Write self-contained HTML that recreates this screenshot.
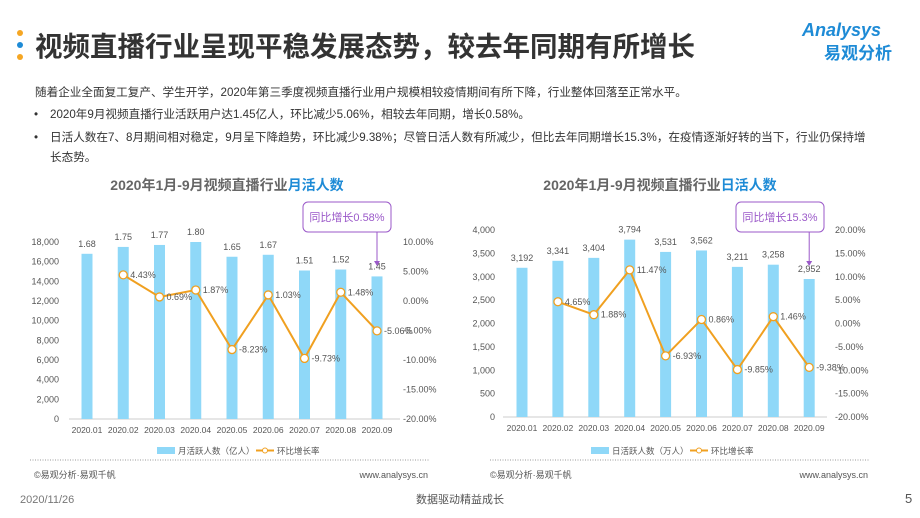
<!DOCTYPE html>
<html><head><meta charset="utf-8">
<style>
body{margin:0;width:920px;height:518px;background:#fff;overflow:hidden;font-family:"Liberation Sans","Noto Sans CJK SC",sans-serif;}
svg{position:absolute;left:0;top:0}
</style></head>
<body>
<svg id="s" width="920" height="518" xmlns="http://www.w3.org/2000/svg" font-family="Liberation Sans, Noto Sans CJK SC, sans-serif">
<g>
<circle cx="20" cy="33" r="3" fill="#f5a623"/><circle cx="20" cy="45" r="3" fill="#1e8bd6"/><circle cx="20" cy="57" r="3" fill="#f5a623"/>
<text x="35" y="56" font-size="27.5" font-weight="bold" fill="#333">视频直播行业呈现平稳发展态势，较去年同期有所增长</text>
<text x="802" y="36" font-size="18" font-style="italic" font-weight="bold" fill="#1e8bd6">Analysys</text>
<text x="824" y="59" font-size="17" font-weight="bold" fill="#1e8bd6">易观分析</text>
</g>
<g font-size="11.6" fill="#333">
<text x="35" y="96">随着企业全面复工复产、学生开学，2020年第三季度视频直播行业用户规模相较疫情期间有所下降，行业整体回落至正常水平。</text>
<text x="34" y="118">•</text><text x="50" y="118">2020年9月视频直播行业活跃用户达1.45亿人，环比减少5.06%，相较去年同期，增长0.58%。</text>
<text x="34" y="141">•</text><text x="50" y="141">日活人数在7、8月期间相对稳定，9月呈下降趋势，环比减少9.38%；尽管日活人数有所减少，但比去年同期增长15.3%，在疫情逐渐好转的当下，行业仍保持增</text>
<text x="50" y="161">长态势。</text>
</g>
<g id="c1"></g>
<g id="c2"></g>
<g font-size="9" fill="#555">
<text x="34" y="478">©易观分析·易观千帆</text><text x="428" y="478" text-anchor="end">www.analysys.cn</text>
<text x="490" y="478">©易观分析·易观千帆</text><text x="868" y="478" text-anchor="end">www.analysys.cn</text>
<text x="20" y="503" font-size="11" fill="#777">2020/11/26</text>
<text x="460" y="503" font-size="11" fill="#555" text-anchor="middle">数据驱动精益成长</text>
<text x="905" y="503" font-size="13" fill="#555">5</text>
</g>
</svg>
<script>
const cats=["2020.01","2020.02","2020.03","2020.04","2020.05","2020.06","2020.07","2020.08","2020.09"];
const mauVals=[1.68,1.75,1.77,1.80,1.65,1.67,1.51,1.52,1.45];
const mauRate=[null,4.43,0.69,1.87,-8.23,1.03,-9.73,1.48,-5.06];
const dauVals=[3192,3341,3404,3794,3531,3562,3211,3258,2952];
const dauRate=[null,4.65,1.88,11.47,-6.93,0.86,-9.85,1.46,-9.38];
const mauLeftTicks=[0,2000,4000,6000,8000,10000,12000,14000,16000,18000];
const mauRightTicks=[-20,-15,-10,-5,0,5,10];
const dauLeftTicks=[0,500,1000,1500,2000,2500,3000,3500,4000];
const dauRightTicks=[-20,-15,-10,-5,0,5,10,15,20];
const NS="http://www.w3.org/2000/svg";
function mk(p,t,a,txt){const e=document.createElementNS(NS,t);for(const k in a)e.setAttribute(k,a[k]);if(txt!=null)e.textContent=txt;p.appendChild(e);return e;}
function fmt(v){return v.toLocaleString('en-US');}
function chart(g,o){
  const yL=v=>o.y0-(v-o.lmin)/(o.lmax-o.lmin)*(o.y0-o.y1);
  const yR=v=>o.y0-(v-o.rmin)/(o.rmax-o.rmin)*(o.y0-o.y1);
  const xC=i=>o.cx0+i*o.step;
  const t=mk(g,'text',{x:o.tx,y:190,'font-size':14,'font-weight':'bold',fill:'#666','text-anchor':'middle'});
  
  
  t.textContent=o.title;mk(t,'tspan',{fill:'#1e8bd6'},o.titleHi);
  o.lt.forEach(v=>{const e=mk(g,'text',{x:o.lx,y:yL(v)+3,'font-size':9,fill:'#555','text-anchor':'end'},fmt(v));
    });
  o.rt.forEach(v=>{const e=mk(g,'text',{x:o.rx,y:yR(v)+3,'font-size':9,fill:'#555'},v.toFixed(2)+'%');
    });
  const ax=mk(g,'line',{x1:o.px0,x2:o.px1,y1:o.y0,y2:o.y0,stroke:'#ccc'});
  
  cats.forEach((c,i)=>{
    const v=o.vals[i]*o.mult;
    const b=mk(g,'rect',{x:xC(i)-5.5,y:yL(v),width:11,height:o.y0-yL(v),fill:'#8fd8f8'});
    
    const l=mk(g,'text',{x:xC(i),y:yL(v)-7,'font-size':9,fill:'#555','text-anchor':'middle'},o.lbl(o.vals[i]));
    
    const x=mk(g,'text',{x:xC(i),y:o.y0+14,'font-size':8.5,fill:'#555','text-anchor':'middle'},c);
    
  });
  const pts=[];o.rate.forEach((r,i)=>{if(r!=null)pts.push([xC(i),yR(r),r]);});
  const pl=mk(g,'polyline',{points:pts.map(p=>p[0]+','+p[1]).join(' '),fill:'none',stroke:'#f0a020','stroke-width':2});
  
  pts.forEach(p=>{
    const c=mk(g,'circle',{cx:p[0],cy:p[1],r:4,fill:'#fff',stroke:'#f0a020','stroke-width':1.3});
    
    const l=mk(g,'text',{x:p[0]+7,y:p[1]+3,'font-size':9,fill:'#555'},p[2].toFixed(2)+'%');
    
  });
  const bx=mk(g,'rect',{x:o.bx,y:202,width:88,height:30,rx:5,fill:'#fff',stroke:'#9b59c9'});
  
  const bt=mk(g,'text',{x:o.bx+44,y:221,'font-size':11,fill:'#9b59c9','text-anchor':'middle'},o.callout);
  
  const ar=mk(g,'line',{x1:xC(8),x2:xC(8),y1:232,y2:262,stroke:'#9b59c9'});
  
  mk(g,'polygon',{points:`${xC(8)-3},261 ${xC(8)+3},261 ${xC(8)},266`,fill:'#9b59c9'});
  const lg=mk(g,'g',{});
  
  mk(lg,'rect',{x:o.lgx,y:447,width:18,height:7,fill:'#8fd8f8'});
  mk(lg,'text',{x:o.lgx+21,y:454,'font-size':8.5,fill:'#555'},o.legend);
  mk(lg,'line',{x1:o.lgx+99,x2:o.lgx+117,y1:450.5,y2:450.5,stroke:'#f0a020','stroke-width':2});
  mk(lg,'circle',{cx:o.lgx+108,cy:450.5,r:2.5,fill:'#fff',stroke:'#f0a020'});
  mk(lg,'text',{x:o.lgx+120,y:454,'font-size':8.5,fill:'#555'},'环比增长率');
  const dl=mk(g,'line',{x1:o.dl0,x2:o.dl1,y1:460,y2:460,stroke:'#999','stroke-dasharray':'1 1.5'});
  
}
chart(document.getElementById('c1'),{title:'2020年1月-9月视频直播行业',titleHi:'月活人数',tx:227,
  y0:419,y1:242,lmin:0,lmax:18000,rmin:-20,rmax:10,lt:mauLeftTicks,rt:mauRightTicks,lx:59,rx:403,
  px0:69,px1:400,cx0:87,step:36.25,vals:mauVals,mult:10000,lbl:v=>v.toFixed(2),rate:mauRate,
  bx:303,callout:'同比增长0.58%',lgx:157,legend:'月活跃人数（亿人）',dl0:30,dl1:430});
chart(document.getElementById('c2'),{title:'2020年1月-9月视频直播行业',titleHi:'日活人数',tx:660,
  y0:417,y1:230,lmin:0,lmax:4000,rmin:-20,rmax:20,lt:dauLeftTicks,rt:dauRightTicks,lx:495,rx:835,
  px0:503,px1:827,cx0:522,step:35.9,vals:dauVals,mult:1,lbl:v=>fmt(v),rate:dauRate,
  bx:736,callout:'同比增长15.3%',lgx:591,legend:'日活跃人数（万人）',dl0:490,dl1:870});
</script>
</body></html>
